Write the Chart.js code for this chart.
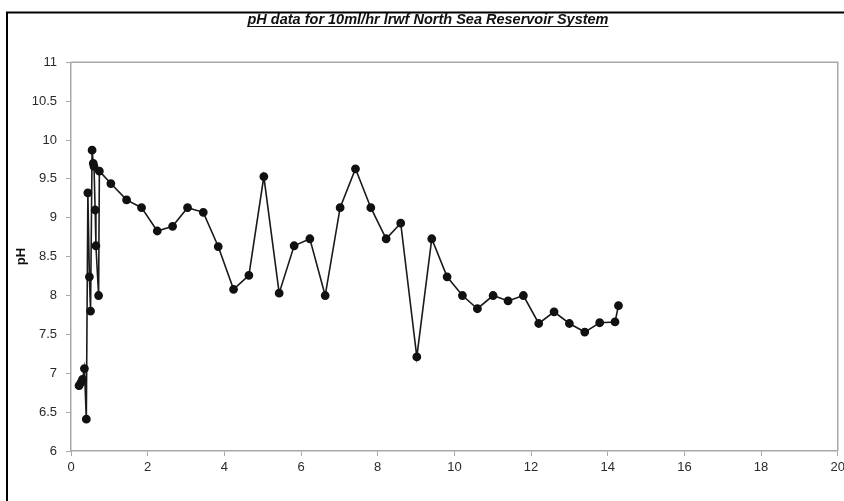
<!DOCTYPE html>
<html>
<head>
<meta charset="utf-8">
<script src="https://cdn.jsdelivr.net/npm/chart.js@4.4.0/dist/chart.umd.min.js"></script>
<style>
  html, body { margin: 0; padding: 0; background: #fff; overflow: hidden; }
  #wrap { width: 844px; height: 501px; overflow: hidden; }
</style>
</head>
<body>
<div id="wrap"><canvas id="chart" width="849" height="501"></canvas></div>
<script>
const timeDays = [
  0.21, 0.26, 0.30, 0.35, 0.40, 0.44, 0.48, 0.51, 0.55, 0.58,
  0.60, 0.63, 0.65, 0.72, 0.74, 1.04, 1.45, 1.84, 2.25, 2.65,
  3.04, 3.45, 3.84, 4.24, 4.64, 5.03, 5.43, 5.82, 6.23, 6.63,
  7.02, 7.42, 7.82, 8.22, 8.60, 9.02, 9.41, 9.81, 10.21, 10.60,
  11.01, 11.40, 11.80, 12.20, 12.60, 13.00, 13.40, 13.79, 14.19, 14.28
];
const phValues = [
  6.84, 6.88, 6.92, 7.06, 6.41, 9.32, 8.24, 7.80, 9.87, 9.70,
  9.66, 9.10, 8.64, 8.00, 9.60, 9.44, 9.23, 9.13, 8.83, 8.89,
  9.13, 9.07, 8.63, 8.08, 8.26, 9.53, 8.03, 8.64, 8.73, 8.00,
  9.13, 9.63, 9.13, 8.73, 8.93, 7.21, 8.73, 8.24, 8.00, 7.83,
  8.00, 7.93, 8.00, 7.64, 7.79, 7.64, 7.53, 7.65, 7.66, 7.87
];
const xRange = [0, 20];
const yRange = [6, 11];
const titleText = 'pH data for 10ml/hr lrwf North Sea Reservoir System';
const titleFont = 'italic bold 14.5px "Liberation Sans", Arial, sans-serif';

const points = timeDays.map((t, i) => ({ x: t, y: phValues[i] }));

// frame lines, plot box and the title underline
const decor = {
  id: 'decor',
  afterDraw(chart) {
    const ctx = chart.ctx;
    const a = chart.chartArea;
    ctx.save();
    ctx.strokeStyle = '#000';
    ctx.lineWidth = 2;
    ctx.beginPath();
    ctx.moveTo(7, 501); ctx.lineTo(7, 12.5); ctx.lineTo(849, 12.5);
    ctx.stroke();

    ctx.strokeStyle = '#a8a8a8';
    ctx.lineWidth = 1.5;
    ctx.beginPath();
    ctx.moveTo(a.left, a.top); ctx.lineTo(a.right, a.top); ctx.lineTo(a.right, a.bottom);
    ctx.stroke();

    ctx.font = titleFont;
    const w = ctx.measureText(titleText).width;
    const cx = 428;
    ctx.strokeStyle = '#111';
    ctx.lineWidth = 1.2;
    ctx.beginPath();
    ctx.moveTo(cx - w / 2, 26.5); ctx.lineTo(cx + w / 2, 26.5);
    ctx.stroke();
    ctx.restore();
  }
};

// place the start-aligned title so its centre sits at x=428 on the visible page
const titleShift = {
  id: 'titleShift',
  beforeDraw(chart) {
    const ctx = chart.ctx;
    ctx.save();
    ctx.font = titleFont;
    const w = ctx.measureText(titleText).width;
    ctx.restore();
    chart.titleBlock.left = 428 - w / 2;
  }
};

Chart.defaults.font.family = '"Liberation Sans", Arial, sans-serif';
Chart.defaults.color = '#2a2a2a';

new Chart(document.getElementById('chart'), {
  type: 'scatter',
  data: {
    datasets: [{
      data: points,
      showLine: true,
      borderColor: '#1a1a1a',
      borderWidth: 1.6,
      pointBackgroundColor: '#111',
      pointBorderColor: '#111',
      pointRadius: 3.6,
      tension: 0
    }]
  },
  options: {
    responsive: false,
    animation: false,
    layout: { padding: { left: 0, right: 1, top: 0, bottom: 0 } },
    plugins: {
      legend: { display: false },
      tooltip: { enabled: false },
      title: {
        display: true,
        text: titleText,
        color: '#111',
        font: { size: 14.5, weight: 'bold', style: 'italic' },
        padding: { top: 11, bottom: 33.9 },
        align: 'start'
      }
    },
    scales: {
      x: {
        type: 'linear',
        min: xRange[0],
        max: xRange[1],
        ticks: { stepSize: 2, padding: 4, font: { size: 13 }, maxRotation: 0 },
        grid: { display: true, drawOnChartArea: false, tickLength: 5, color: '#a8a8a8' },
        border: { color: '#a8a8a8', width: 1.5 },
        afterFit(scale) { scale.height = 50; }
      },
      y: {
        type: 'linear',
        min: yRange[0],
        max: yRange[1],
        ticks: { stepSize: 0.5, padding: 9, font: { size: 13 }, callback: v => String(v) },
        grid: { display: true, drawOnChartArea: false, tickLength: 5, color: '#a8a8a8' },
        border: { color: '#a8a8a8', width: 1.5 },
        title: {
          display: true,
          text: 'pH',
          color: '#111',
          font: { size: 13, weight: 'bold' },
          padding: { top: 14, bottom: 0 }
        },
        afterFit(scale) { scale.width = 71; }
      }
    }
  },
  plugins: [decor, titleShift]
});
</script>
</body>
</html>
